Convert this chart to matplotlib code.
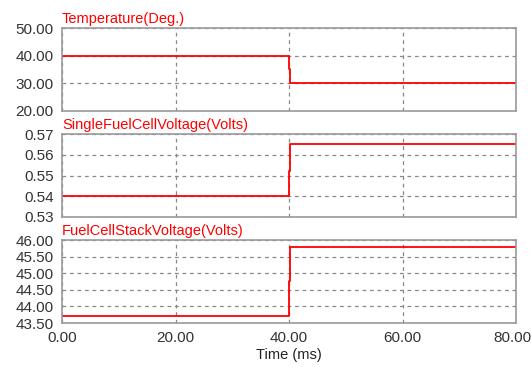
import matplotlib.pyplot as plt
from matplotlib.transforms import ScaledTranslation

plt.rcParams['font.family'] = ['Liberation Sans', 'DejaVu Sans']

# step times (ms) and the levels held from each time on
t = [0.0, 40.0, 40.25, 80.0]
temperature = [40.0, 35.0, 30.0, 30.0]
cell_voltage = [0.540, 0.552, 0.565, 0.565]
stack_voltage = [43.70, 44.78, 45.80, 45.80]

titles = ['Temperature(Deg.)', 'SingleFuelCellVoltage(Volts)', 'FuelCellStackVoltage(Volts)']
series = [temperature, cell_voltage, stack_voltage]
yticks = [
    [20, 30, 40, 50],
    [0.53, 0.54, 0.55, 0.56, 0.57],
    [43.5, 44.0, 44.5, 45.0, 45.5, 46.0],
]
xticks = [0, 20, 40, 60, 80]

fig = plt.figure(figsize=(5.31, 3.67), dpi=100)
W, H = 531, 367
left, right = 62, 516
tops = [28, 134, 240]
height = 83

axes = []
for top, title, y, yt in zip(tops, titles, series, yticks):
    ax = fig.add_axes([left / W, 1 - (top + height) / H, (right - left) / W, height / H])
    ax.step(t, y, where='post', color='#ff0000', lw=1.3)
    ax.set_xlim(0, 80)
    ax.set_ylim(yt[0], yt[-1])
    ax.set_xticks(xticks)
    ax.set_yticks(yt)
    ax.yaxis.set_major_formatter(lambda v, p: f'{v:.2f}')
    ax.xaxis.set_major_formatter(lambda v, p: f'{v:.2f}')
    ax.grid(True, color='#888888', ls=(0, (3, 3)), lw=0.9)
    ax.tick_params(length=0, labelsize=11, colors='#333333')
    ax.tick_params(axis='y', pad=6)
    ax.tick_params(axis='x', pad=6)
    for s in ax.spines.values():
        s.set_color('#999999')
        s.set_linewidth(1.2)
    ax.text(0, 1.03, title, transform=ax.transAxes, color='#ff0000',
            fontsize=10.5, ha='left', va='bottom')
    axes.append(ax)

for ax in axes[:-1]:
    ax.tick_params(labelbottom=False)
axes[-1].set_xlabel('Time (ms)', fontsize=10.5, color='#222222', labelpad=2)

# keep the last time label inside the figure
fig.canvas.draw()
last = axes[-1].get_xticklabels()[-1]
last.set_transform(last.get_transform() + ScaledTranslation(-4 / 100, 0, fig.dpi_scale_trans))

fig.savefig('out.png', dpi=100)
